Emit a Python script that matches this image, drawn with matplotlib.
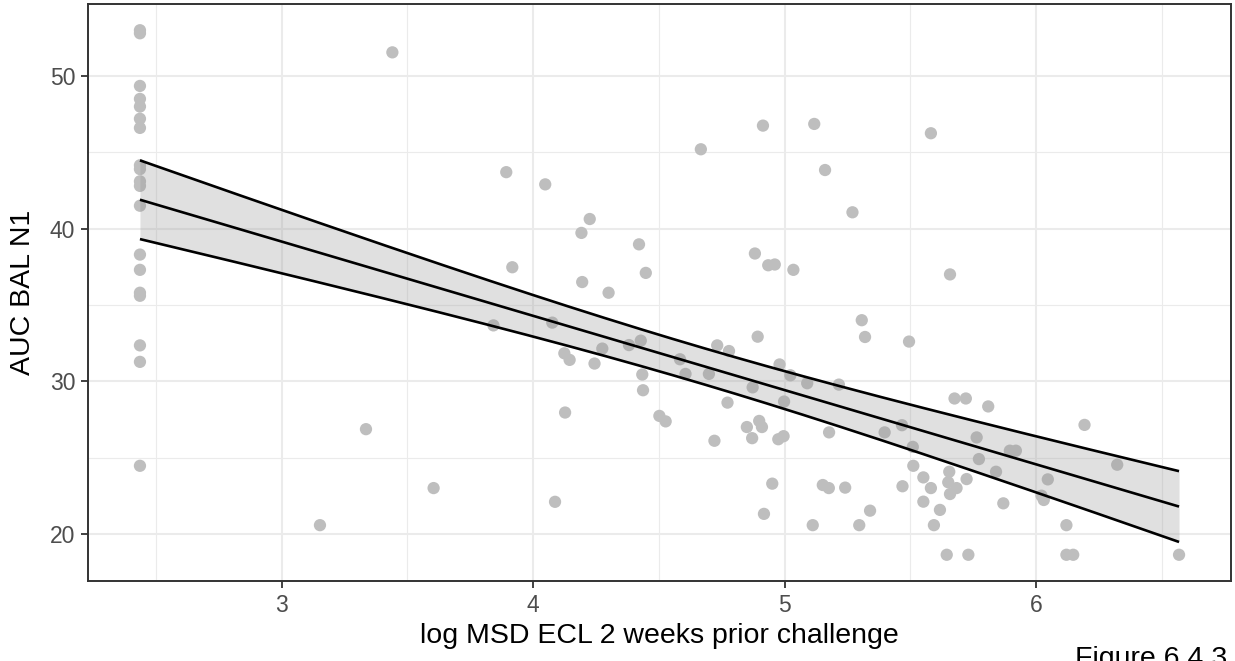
import numpy as np
import matplotlib
matplotlib.use("Agg")
import matplotlib.pyplot as plt
from matplotlib.ticker import MultipleLocator

plt.rcParams['font.family'] = ['Liberation Sans', 'DejaVu Sans']

# ---- data ----
left_x = 2.436
left_y = [53.0, 52.8, 49.35, 48.5, 48.0, 47.2, 46.6, 44.15, 43.9, 43.1, 42.8,
          41.5, 38.3, 37.3, 35.8, 35.6, 32.35, 31.27, 24.46]

other_x = [3.44, 3.335, 3.604, 3.152, 3.893, 4.048, 4.667, 4.914, 5.118, 5.161,
           5.270, 4.225, 4.192, 4.421, 3.917, 4.195, 4.30, 4.448, 4.882, 4.935,
           4.961, 5.035, 5.307, 3.842, 4.076, 4.124, 4.145, 4.244, 4.275, 4.381,
           4.428, 4.434, 4.437, 4.127, 4.502, 4.527, 4.584, 4.606, 4.699, 4.732,
           4.779, 4.773, 4.721, 4.873, 4.893, 4.850, 4.899, 4.910, 4.871, 4.975,
           4.996, 4.980, 5.023, 4.998, 5.090, 5.216, 5.177, 5.32, 4.951, 4.918,
           5.152, 5.176, 5.241, 5.112, 5.297, 5.340, 4.087, 5.582, 5.658, 5.495,
           5.676, 5.721, 5.810, 6.193, 6.323, 5.467, 5.398, 5.510, 5.764, 5.773,
           5.896, 5.920, 5.841, 6.047, 5.512, 5.552, 5.655, 5.582, 5.469, 5.651,
           5.684, 5.724, 5.658, 5.552, 5.618, 5.870, 6.022, 6.031, 5.594, 6.121,
           5.645, 5.731, 6.121, 6.148, 6.569]
other_y = [51.55, 26.86, 23.0, 20.57, 43.7, 42.9, 45.2, 46.75, 46.86, 43.84,
           41.07, 40.63, 39.72, 38.97, 37.47, 36.5, 35.8, 37.1, 38.37, 37.6,
           37.65, 37.3, 34.0, 33.66, 33.84, 31.83, 31.4, 31.16, 32.14, 32.37,
           32.66, 30.44, 29.41, 27.95, 27.73, 27.37, 31.44, 30.48, 30.48, 32.35,
           31.98, 28.6, 26.1, 29.6, 32.92, 27.0, 27.4, 27.0, 26.27, 26.2,
           26.4, 31.1, 30.39, 28.67, 29.87, 29.78, 26.65, 32.9, 23.29, 21.31,
           23.2, 23.0, 23.03, 20.57, 20.57, 21.52, 22.1, 46.25, 37.0, 32.6,
           28.87, 28.87, 28.35, 27.14, 24.53, 27.12, 26.65, 25.7, 26.32, 24.9,
           25.45, 25.45, 24.07, 23.57, 24.46, 23.7, 24.07, 23.0, 23.12, 23.38,
           23.0, 23.59, 22.61, 22.11, 21.57, 22.0, 22.5, 22.22, 20.57, 20.57,
           18.63, 18.63, 18.63, 18.63, 18.63]

x_ticks = [3, 4, 5, 6]
y_ticks = [20, 30, 40, 50]
x_label = "log MSD ECL 2 weeks prior challenge"
y_label = "AUC BAL N1"
caption = "Figure 6.4.3"

x = np.array([left_x] * len(left_y) + other_x)
y = np.array(left_y + other_y)

# ---- linear fit with 95% confidence band ----
n = len(x)
slope, intercept = np.polyfit(x, y, 1)
resid = y - (slope * x + intercept)
s = np.sqrt(np.sum(resid ** 2) / (n - 2))
xbar = x.mean()
sxx = np.sum((x - xbar) ** 2)
tq = 1.979
xs = np.linspace(x.min(), x.max(), 200)
yfit = slope * xs + intercept
se = s * np.sqrt(1.0 / n + (xs - xbar) ** 2 / sxx)
ylo, yhi = yfit - tq * se, yfit + tq * se

# ---- figure ----
W, H = 1235, 661
fig = plt.figure(figsize=(W / 100, H / 100), dpi=100)
ax = fig.add_axes([88 / W, 1 - 581 / H, (1231 - 88) / W, (581 - 4) / H])

ax.scatter(x, y, s=78, color='#BEBEBE', edgecolors='none', zorder=2)
ax.fill_between(xs, ylo, yhi, color='#999999', alpha=0.3, linewidth=0, zorder=3)
for arr in (ylo, yfit, yhi):
    ax.plot(xs, arr, color='black', lw=1.9, zorder=4, solid_capstyle='butt')

xr = x.max() - x.min()
yr = y.max() - y.min()
ax.set_xlim(x.min() - 0.05 * xr, x.max() + 0.05 * xr)
ax.set_ylim(y.min() - 0.05 * yr, y.max() + 0.05 * yr)

ax.set_xticks(x_ticks)
ax.set_yticks(y_ticks)
ax.xaxis.set_minor_locator(MultipleLocator(0.5))
ax.yaxis.set_minor_locator(MultipleLocator(5))
ax.grid(which='major', color='#EBEBEB', lw=1.5, zorder=0)
ax.grid(which='minor', color='#EBEBEB', lw=0.8, zorder=0)
ax.set_axisbelow(True)
ax.tick_params(which='minor', length=0)
ax.tick_params(which='major', length=5.2, width=1.3, color='#333333',
               labelcolor='#4D4D4D', labelsize=16.5, pad=4)
for sp in ax.spines.values():
    sp.set_color('#333333')
    sp.set_linewidth(1.4)

ax.set_xlabel(x_label, fontsize=20.5, color='black', labelpad=4.5)
ax.set_ylabel(y_label, fontsize=20.5, color='black', labelpad=10)

fig.text(1075 / W, 1 - 665.5 / H, caption, fontsize=20.5, color='black',
         ha='left', va='baseline')

fig.savefig('out.png', dpi=100)
